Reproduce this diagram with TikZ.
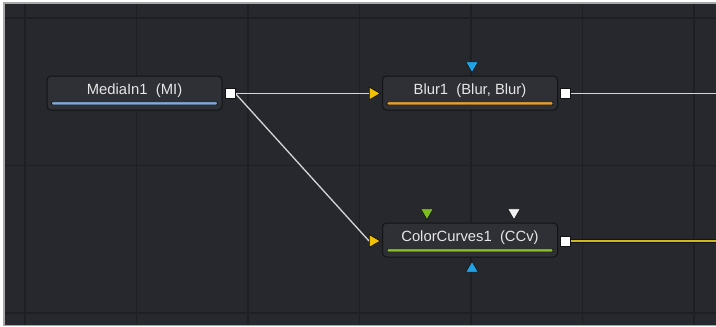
\documentclass[tikz,border=0pt]{standalone}
\usepackage{fontspec}
\setmainfont{Liberation Sans}
\usetikzlibrary{shapes.geometric}
\pgfdeclarelayer{back}
\pgfdeclarelayer{wires}
\pgfsetlayers{back,wires,main}
\definecolor{canvas}{HTML}{27282D}
\definecolor{gridc}{HTML}{1E1F23}
\definecolor{framec}{HTML}{A8A8A8}
\definecolor{nodefill}{HTML}{2F3035}
\definecolor{nodeedge}{HTML}{121315}
\definecolor{txt}{HTML}{E6E6E6}
\definecolor{wirec}{HTML}{D6D6D6}
\definecolor{yelw}{HTML}{D2B61E}
\definecolor{yeltri}{HTML}{F2C200}
\definecolor{bluetri}{HTML}{22A2E6}
\definecolor{greentri}{HTML}{7DBE1E}
\definecolor{whitetri}{HTML}{F0F0F0}
\definecolor{barblue}{HTML}{82AAD8}
\definecolor{barorange}{HTML}{E6A032}
\definecolor{bargreen}{HTML}{8CBE2C}
\tikzset{
  toolbox/.style={draw=nodeedge, fill=nodefill, rounded corners=4pt, minimum width=175pt, minimum height=34pt, inner sep=0pt, line width=1pt},
  tooltext/.style={text=txt, font=\fontsize{14.8}{17}\selectfont, inner sep=0pt},
  bar/.style={draw=nodeedge, line width=0.6pt, rounded corners=1pt},
  outport/.style={draw=nodeedge, fill=white, minimum size=10pt, inner sep=0pt, line width=0.8pt},
  tri/.style={regular polygon, regular polygon sides=3, minimum size=14.5pt, inner sep=0pt, draw=nodeedge, line width=0.7pt},
  triright/.style={tri, shape border rotate=-90},
  tridown/.style={tri, shape border rotate=180},
  triup/.style={tri},
  gridline/.style={draw=gridc, line width=1.4pt},
  wire/.style={draw=wirec, line width=1.3pt},
}
\begin{document}
\begin{tikzpicture}[x=1pt,y=-1pt]
\useasboundingbox (0,0) rectangle (716,327);
% tools
\node[toolbox] (mi) at (134.5,93) {};
\node[toolbox] (blur) at (470,93) {};
\node[toolbox] (cc) at (470,240) {};
\node[tooltext] (mitext) at ([yshift=2.5pt]mi.center) {MediaIn1\ \ (MI)};
\node[tooltext] (blurtext) at ([yshift=2.5pt]blur.center) {Blur1\ \ (Blur, Blur)};
\node[tooltext] (cctext) at ([yshift=2.5pt]cc.center) {ColorCurves1\ \ (CCv)};
% colour bars
\draw[bar, fill=barblue] ([xshift=5pt,yshift=5.6pt]mi.south west) rectangle ([xshift=-5pt,yshift=8.6pt]mi.south east);
\draw[bar, fill=barorange] ([xshift=5pt,yshift=5.6pt]blur.south west) rectangle ([xshift=-5pt,yshift=8.6pt]blur.south east);
\draw[bar, fill=bargreen] ([xshift=5pt,yshift=5.6pt]cc.south west) rectangle ([xshift=-5pt,yshift=8.6pt]cc.south east);
% ports
\node[outport] (miout) at (230,93.5) {};
\node[outport] (blurout) at (565,93.5) {};
\node[outport] (ccout) at (565,241) {};
\node[triright, fill=yeltri] (blurin) at (373,93.5) {};
\node[triright, fill=yeltri] (ccin) at (373,241) {};
\node[tridown, fill=bluetri] (blurmask) at (472,65.5) {};
\node[tridown, fill=greentri] (ccgreen) at (427,212.5) {};
\node[tridown, fill=whitetri] (ccwhite) at (514,212.5) {};
\node[triup, fill=bluetri] (ccmask) at (472,268.5) {};
\coordinate (blurend) at (716,93.5);
\coordinate (ccend) at (716,241);
\begin{pgfonlayer}{wires}
\draw[wire] (miout.east) -- (blurin.west);
\draw[wire] (miout.east) -- (ccin.west);
\draw[wire] (blurout.east) -- (blurend);
\draw[draw=nodeedge, line width=4.4pt] (ccout.east) -- (ccend);
\draw[draw=yelw, line width=2.8pt] (ccout.east) -- (ccend);
\end{pgfonlayer}
\begin{pgfonlayer}{back}
\fill[white] (0,0) rectangle (716,327);
\fill[canvas] (4,3) rectangle (716,325.5);
\foreach \gx in {25,136.5,248,359.5,471,582.5,694} {
  \draw[gridline] (\gx,3.8) -- (\gx,324.7);
}
\foreach \gy in {18,165.5,313} {
  \draw[gridline] (4.8,\gy) -- (716,\gy);
}
\draw[draw=framec, line width=1.5pt] (716,3) -- (4,3) -- (4,325.5) -- (716,325.5);
\end{pgfonlayer}
\end{tikzpicture}
\end{document}
